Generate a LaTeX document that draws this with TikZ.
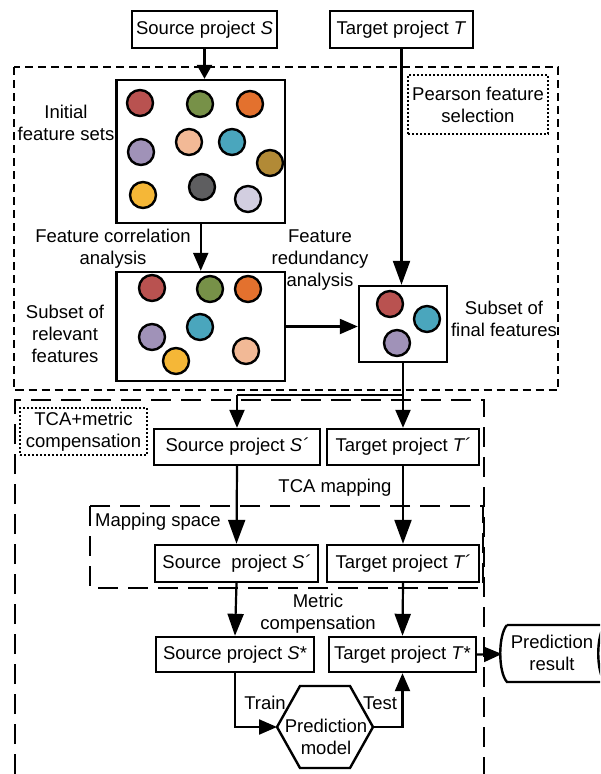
\documentclass[tikz,border=0pt]{standalone}
\usepackage{fontspec}
\setmainfont{Liberation Sans}
\usetikzlibrary{arrows.meta}
\definecolor{cred}{RGB}{185,82,80}
\definecolor{cgreen}{RGB}{119,145,72}
\definecolor{corange}{RGB}{227,113,46}
\definecolor{cpurple}{RGB}{160,146,184}
\definecolor{cpeach}{RGB}{242,185,150}
\definecolor{cteal}{RGB}{74,166,189}
\definecolor{colive}{RGB}{178,138,54}
\definecolor{cyellow}{RGB}{245,183,55}
\definecolor{cdark}{RGB}{94,94,96}
\definecolor{clav}{RGB}{210,206,224}
\begin{document}
\begin{tikzpicture}[x=1pt,y=-1pt,
  every node/.style={font=\fontsize{18.5}{22}\selectfont, align=center},
  bx/.style={draw, line width=2.4pt, inner sep=0pt, anchor=center},
  lbl/.style={inner sep=0pt},
  fc/.style={circle, draw, line width=2.4pt, minimum size=26pt, inner sep=0pt, fill=#1},
  arr/.style={-{Triangle[length=18pt,width=15pt]}, line width=2.2pt},
  ln/.style={line width=2.2pt},
  dashA/.style={line width=2pt, dash pattern=on 8pt off 5pt},
  dashB/.style={line width=2pt, dash pattern=on 20pt off 10pt},
  dotbox/.style={draw, line width=2pt, dash pattern=on 2pt off 2pt, inner sep=0pt, anchor=center}
]
\useasboundingbox (0,0) rectangle (600,774);
\clip (0,0) rectangle (600,774);

% dashed regions
\draw[dashA] (13.5,67) rectangle (558,390);
\draw[dashB] (15,774) -- (15,400) -- (484,400) -- (484,774);
\draw[dashB] (90,506) rectangle (483,588);

% top boxes
\node[bx, minimum width=145pt, minimum height=37pt] (srcTop) at (204.5,29.5) {Source project \textit{S}};
\node[bx, minimum width=143pt, minimum height=37pt] (tgtTop) at (401.5,29.5) {Target project \textit{T}};

\node[dotbox, minimum width=140pt, minimum height=59pt] (pearson) at (478,104.5) {Pearson feature\\selection};

% initial feature set
\node[bx, minimum width=168.5pt, minimum height=143pt] (init) at (200.75,151.5) {};
\node[fc=cred] (i1) at (140,103) {};
\node[fc=cgreen] (i2) at (200,104) {};
\node[fc=corange] (i3) at (250,104) {};
\node[fc=cpurple] (i4) at (141,152) {};
\node[fc=cpeach] (i5) at (189,142) {};
\node[fc=cteal] (i6) at (232,142) {};
\node[fc=colive] (i7) at (270,163) {};
\node[fc=cyellow] (i8) at (143,195) {};
\node[fc=cdark] (i9) at (202,187) {};
\node[fc=clav] (i10) at (248,199) {};

\node[lbl] (lInit) at (66,123) {Initial\\feature sets};
\node[lbl] (lCorr) at (113,248.5) {Feature correlation\\analysis};
\node[lbl] (lRed) at (320,260) {Feature\\redundancy\\analysis};

% relevant subset
\node[bx, minimum width=168.5pt, minimum height=109pt] (rel) at (200.75,326.5) {};
\node[fc=cred] (r1) at (152,288) {};
\node[fc=cgreen] (r2) at (210,289) {};
\node[fc=corange] (r3) at (248,289) {};
\node[fc=cpurple] (r4) at (152,337) {};
\node[fc=cteal] (r5) at (200,327) {};
\node[fc=cyellow] (r6) at (176,361) {};
\node[fc=cpeach] (r7) at (246,351) {};
\node[lbl] (lRel) at (65,333.5) {Subset of\\relevant\\features};

% final subset
\node[bx, minimum width=88pt, minimum height=76pt] (fin) at (403,324) {};
\node[fc=cred] (f1) at (390,304) {};
\node[fc=cteal] (f2) at (427,319) {};
\node[fc=cpurple] (f3) at (397,343) {};
\node[lbl] (lFin) at (504,319) {Subset of\\final features};

% TCA part
\node[dotbox, minimum width=127pt, minimum height=47pt] (tca) at (83.5,431.5) {TCA+metric\\compensation};
\node[bx, minimum width=166pt, minimum height=36pt] (sp1) at (237,447) {Source project \textit{S´}};
\node[bx, minimum width=152pt, minimum height=36pt] (tp1) at (403,447) {Target project \textit{T´}};
\node[lbl] (lTca) at (335,488) {TCA mapping};
\node[lbl, anchor=west] (lMap) at (95,522) {Mapping space};
\node[bx, minimum width=163pt, minimum height=37pt] (sp2) at (236.5,563.5) {Source~ project \textit{S´}};
\node[bx, minimum width=152pt, minimum height=37pt] (tp2) at (403,563.5) {Target project \textit{T´}};
\node[lbl] (lMet) at (318,613.5) {Metric\\compensation};
\node[bx, minimum width=158pt, minimum height=35pt] (ss) at (235,654.5) {Source project \textit{S}*};
\node[bx, minimum width=147pt, minimum height=35pt] (ts) at (402.5,654.5) {Target project \textit{T}*};

% prediction model hexagon
\draw[line width=2.4pt] (300,686) -- (350,686) -- (373,727) -- (350,768) -- (300,768) -- (277,727) -- cycle;
\coordinate (hexL) at (277,727);
\coordinate (hexR) at (373,727);
\node[lbl] (pm) at (326,736.5) {Prediction\\model};
\node[lbl] (lTrain) at (265,703) {Train};
\node[lbl] (lTest) at (380,703) {Test};

% prediction result (stored data shape)
\draw[line width=2.4pt] (507,625) -- (605,625) .. controls (596,635) and (596,672) .. (605,682) -- (507,682) .. controls (498,672) and (498,635) .. (507,625);
\coordinate (prL) at (502,654);
\node[lbl] (pr) at (552,653) {Prediction\\result};

% connectors
\draw[arr, -{Triangle[length=14pt,width=15pt]}] (srcTop.south) -- (srcTop.south |- init.north);
\draw[arr, -{Triangle[length=24pt,width=17pt]}] (tgtTop.south) -- (tgtTop.south |- fin.north);
\draw[arr] (init.south) -- (rel.north);
\draw[arr] (rel.east) -- (rel.east -| fin.west);
\coordinate (jR) at (403,395);
\coordinate (jL) at (237,395);
\draw[ln] (fin.south) -- (jR) -- (jL);
\draw[arr] (jL) -- (sp1.north);
\draw[arr] (jR) -- (tp1.north);
\draw[arr, -{Triangle[length=24pt,width=17pt]}] (sp1.south) -- (sp2.north);
\draw[arr, -{Triangle[length=24pt,width=17pt]}] (tp1.south) -- (tp2.north);
\draw[arr, -{Triangle[length=22pt,width=16pt]}] (sp2.south) -- (ss.north);
\draw[arr, -{Triangle[length=22pt,width=16pt]}] (tp2.south) -- (ts.north);
\draw[arr] (ss.south) |- (hexL);
\draw[arr] (hexR) -| (ts.south);
\draw[arr] (ts.east) -- (prL);
\end{tikzpicture}
\end{document}
